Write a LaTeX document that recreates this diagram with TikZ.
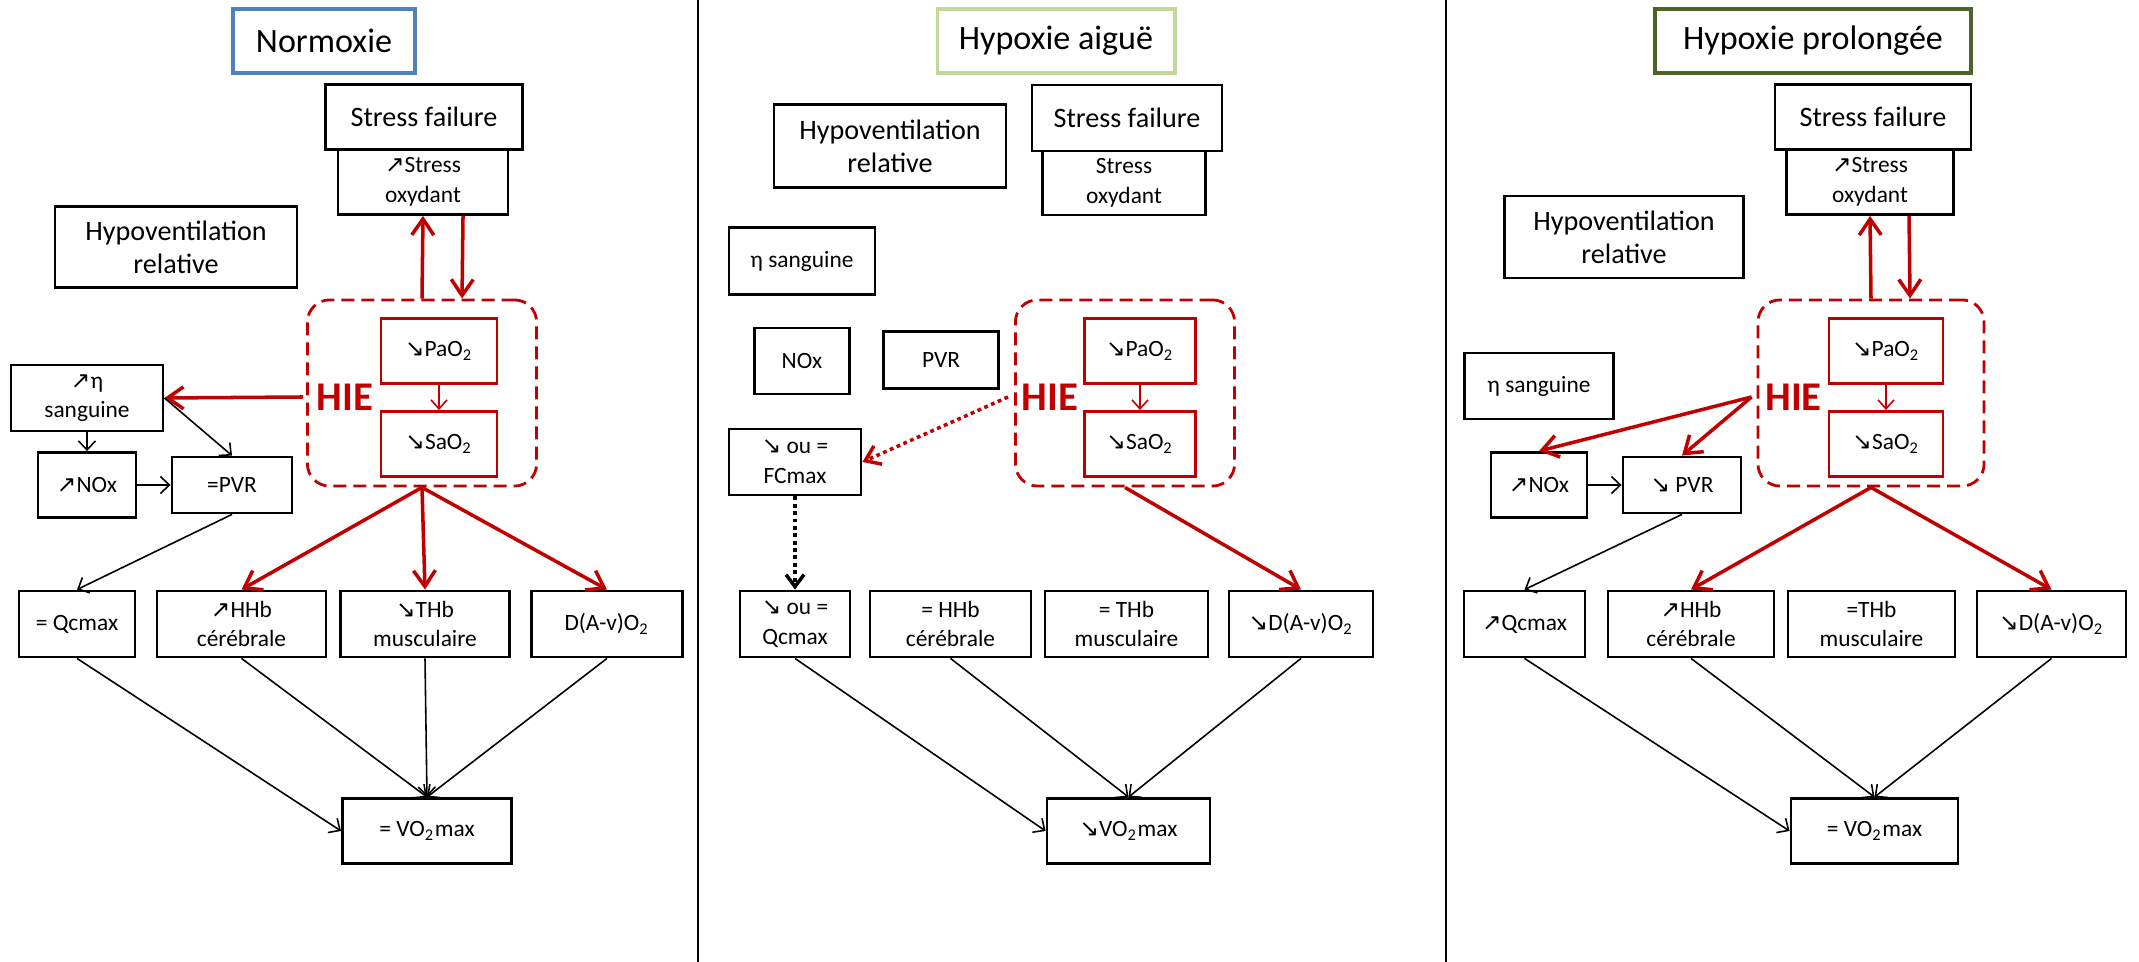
\documentclass[tikz,border=0pt]{standalone}
\usepackage{fontspec}
\setmainfont{Carlito}
\newfontfamily\symf{DejaVu Sans}
\usetikzlibrary{arrows.meta}
\newcommand{\nup}{{\symf\char"2197}}
\newcommand{\ndn}{{\symf\char"2198}}
\newcommand{\fbig}{\fontsize{8pt}{9.4pt}\selectfont}
\newcommand{\fsml}{\fontsize{6.65pt}{8.4pt}\selectfont}
\newcommand{\ftit}{\fontsize{9.7pt}{11pt}\selectfont}
\newcommand{\fhie}{\fontsize{11.6pt}{13pt}\selectfont\bfseries}
\definecolor{hred}{HTML}{C00000}
\definecolor{nblue}{HTML}{4F81BD}
\definecolor{lgreen}{HTML}{C3D69B}
\definecolor{dgreen}{HTML}{4F6228}
\begin{document}
\begin{tikzpicture}[x=0.01cm,y=-0.01cm,
  bx/.style={draw=black, line width=0.8pt, inner sep=0pt, align=center, fill=white},
  tbox/.style={line width=1.1pt, inner sep=0pt, font=\ftit, fill=white, minimum height=0.64cm},
  rbx/.style={draw=hred, line width=0.8pt, inner sep=0pt, align=center, fill=white, font=\fsml, minimum height=0.65cm},
  hbox/.style={draw=hred, line width=0.8pt, rounded corners=0.22cm, dash pattern=on 0.13cm off 0.07cm, inner sep=0pt},
  hietext/.style={text=hred, font=\fhie, inner sep=0.13cm},
  blk/.style={-{Straight Barb[length=0.09cm,width=0.17cm]}, line width=0.45pt},
  redthick/.style={draw=hred, -{Straight Barb[length=0.16cm,width=0.22cm]}, line width=1pt},
  redthin/.style={draw=hred, -{Straight Barb[length=0.09cm,width=0.16cm]}, line width=0.45pt},
  reddot/.style={draw=hred, -{Straight Barb[length=0.14cm,width=0.2cm]}, line width=1pt, dash pattern=on 1.1pt off 1pt},
  blkdot/.style={draw=black, -{Straight Barb[length=0.12cm,width=0.18cm]}, line width=1pt, dash pattern=on 1.1pt off 1pt},
  divl/.style={line width=0.75pt}]
\fill[white] (0,0) rectangle (2139,962);
\useasboundingbox (0,0) rectangle (2139,962);

% dividers
\coordinate (d1a) at (698,0); \coordinate (d1b) at (698,962);
\coordinate (d2a) at (1446,0); \coordinate (d2b) at (1446,962);
\draw[divl] (d1a) -- (d1b);
\draw[divl] (d2a) -- (d2b);

% ================= Panel 1 =================
\node[tbox, draw=nblue, minimum width=1.82cm] (t1) at (324,41) {Normoxie};
\node[bx, font=\fbig, minimum width=1.97cm, minimum height=0.65cm] (sf1) at (424,117) {Stress failure};
\node[bx, font=\fsml, minimum width=1.70cm, minimum height=0.65cm] (ox1) at (423,182) {\nup{}Stress\\oxydant};
\node[bx, font=\fbig, minimum width=2.42cm, minimum height=0.81cm] (hv1) at (176,247) {Hypoventilation\\relative};
\node[hbox, minimum width=2.29cm, minimum height=1.86cm] (hb1) at (422,393) {};
\node[rbx, minimum width=1.16cm] (pa1) at (439,351) {\ndn{}PaO\textsubscript{2}};
\node[rbx, minimum width=1.16cm] (sa1) at (439,444) {\ndn{}SaO\textsubscript{2}};
\node[hietext] (hie1) at (345,397) {HIE};
\node[bx, font=\fsml, minimum width=1.52cm, minimum height=0.66cm] (eta1) at (87,398) {\nup{}η\\sanguine};
\node[bx, font=\fsml, minimum width=0.98cm, minimum height=0.65cm] (nox1) at (87,485) {\nup{}NOx};
\node[bx, font=\fsml, minimum width=1.20cm, minimum height=0.56cm] (pvr1) at (232,485) {=PVR};
\node[bx, font=\fsml, minimum width=1.16cm, minimum height=0.66cm] (qc1) at (77,624) {= Qcmax};
\node[bx, font=\fsml, minimum width=1.69cm, minimum height=0.66cm] (hhb1) at (241.5,624) {\nup{}HHb\\cérébrale};
\node[bx, font=\fsml, minimum width=1.69cm, minimum height=0.66cm] (thb1) at (425,624) {\ndn{}THb\\musculaire};
\node[bx, font=\fsml, minimum width=1.51cm, minimum height=0.66cm] (dav1) at (607,624) {D(A-v)O\textsubscript{2}};
\node[bx, font=\fsml, minimum width=1.69cm, minimum height=0.65cm] (vo1) at (427,831) {= VO\textsubscript{2}max};

\draw[redthick] (hb1.north) -- (ox1.south);
\draw[redthick] ([xshift=0.4cm]ox1.south) -- ([xshift=0.4cm]hb1.north);
\draw[redthin] (pa1) -- (sa1);
\draw[redthick] (hie1.west) -- (eta1.east);
\draw[blk] (eta1.south) -- (nox1.north);
\draw[blk] (eta1.east) -- (pvr1.north);
\draw[blk] (nox1.east) -- (pvr1.west);
\draw[blk] (pvr1.south) -- (qc1.north);
\draw[redthick] (hb1.south) -- (hhb1.north);
\draw[redthick] (hb1.south) -- (thb1.north);
\draw[redthick] (hb1.south) -- (dav1.north);
\draw[blk] (qc1.south) -- (vo1.west);
\draw[blk] (hhb1.south) -- (vo1.north);
\draw[blk] (thb1.south) -- (vo1.north);
\draw[blk] (dav1.south) -- (vo1.north);

% ================= Panel 2 =================
\node[tbox, draw=lgreen, minimum width=2.37cm] (t2) at (1056,41) {Hypoxie aiguë};
\node[bx, font=\fbig, minimum width=2.32cm, minimum height=0.83cm] (hv2) at (890,146) {Hypoventilation\\relative};
\node[bx, font=\fbig, minimum width=1.90cm, minimum height=0.66cm] (sf2) at (1127,118) {Stress failure};
\node[bx, font=\fsml, minimum width=1.63cm, minimum height=0.64cm] (ox2) at (1124,183) {Stress\\oxydant};
\node[bx, font=\fsml, minimum width=1.46cm, minimum height=0.67cm] (eta2) at (802,261) {η sanguine};
\node[bx, font=\fsml, minimum width=0.95cm, minimum height=0.66cm] (nox2) at (802,361) {NOx};
\node[bx, font=\fsml, minimum width=1.15cm, minimum height=0.57cm] (pvr2) at (941,360) {PVR};
\node[hbox, minimum width=2.19cm, minimum height=1.86cm] (hb2) at (1125,393) {};
\node[rbx, minimum width=1.11cm] (pa2) at (1140,351) {\ndn{}PaO\textsubscript{2}};
\node[rbx, minimum width=1.11cm] (sa2) at (1140,444) {\ndn{}SaO\textsubscript{2}};
\node[hietext] (hie2) at (1050,397) {HIE};
\node[bx, font=\fsml, minimum width=1.32cm, minimum height=0.66cm] (fc2) at (795,462) {\ndn{} ou =\\FCmax};
\node[bx, font=\fsml, minimum width=1.10cm, minimum height=0.66cm] (qc2) at (795,624) {\ndn{} ou =\\Qcmax};
\node[bx, font=\fsml, minimum width=1.61cm, minimum height=0.66cm] (hhb2) at (950.5,624) {= HHb\\cérébrale};
\node[bx, font=\fsml, minimum width=1.63cm, minimum height=0.66cm] (thb2) at (1126.5,624) {= THb\\musculaire};
\node[bx, font=\fsml, minimum width=1.44cm, minimum height=0.66cm] (dav2) at (1301,624) {\ndn{}D(A-v)O\textsubscript{2}};
\node[bx, font=\fsml, minimum width=1.63cm, minimum height=0.65cm] (vo2) at (1128.5,831) {\ndn{}VO\textsubscript{2}max};

\draw[redthin] (pa2) -- (sa2);
\draw[reddot] (hie2.west) -- (fc2.east);
\draw[blkdot] (fc2.south) -- (qc2.north);
\draw[redthick] (hb2.south) -- (dav2.north);
\draw[blk] (qc2.south) -- (vo2.west);
\draw[blk] (hhb2.south) -- (vo2.north);
\draw[blk] (dav2.south) -- (vo2.north);

% ================= Panel 3 =================
\node[tbox, draw=dgreen, minimum width=3.15cm] (t3) at (1813,41) {Hypoxie prolongée};
\node[bx, font=\fbig, minimum width=1.96cm, minimum height=0.65cm] (sf3) at (1873,117) {Stress failure};
\node[bx, font=\fsml, minimum width=1.67cm, minimum height=0.65cm] (ox3) at (1870,182) {\nup{}Stress\\oxydant};
\node[bx, font=\fbig, minimum width=2.39cm, minimum height=0.82cm] (hv3) at (1624,237) {Hypoventilation\\relative};
\node[bx, font=\fsml, minimum width=1.49cm, minimum height=0.66cm] (eta3) at (1539,386) {η sanguine};
\node[hbox, minimum width=2.26cm, minimum height=1.86cm] (hb3) at (1871,393) {};
\node[rbx, minimum width=1.14cm] (pa3) at (1886,351) {\ndn{}PaO\textsubscript{2}};
\node[rbx, minimum width=1.14cm] (sa3) at (1886,444) {\ndn{}SaO\textsubscript{2}};
\node[hietext] (hie3) at (1793.5,397) {HIE};
\node[bx, font=\fsml, minimum width=0.96cm, minimum height=0.65cm] (nox3) at (1539,485) {\nup{}NOx};
\node[bx, font=\fsml, minimum width=1.18cm, minimum height=0.56cm] (pvr3) at (1682,485) {\ndn{} PVR};
\node[bx, font=\fsml, minimum width=1.21cm, minimum height=0.66cm] (qc3) at (1524.5,624) {\nup{}Qcmax};
\node[bx, font=\fsml, minimum width=1.66cm, minimum height=0.66cm] (hhb3) at (1691,624) {\nup{}HHb\\cérébrale};
\node[bx, font=\fsml, minimum width=1.67cm, minimum height=0.66cm] (thb3) at (1871.5,624) {=THb\\musculaire};
\node[bx, font=\fsml, minimum width=1.49cm, minimum height=0.66cm] (dav3) at (2051.5,624) {\ndn{}D(A-v)O\textsubscript{2}};
\node[bx, font=\fsml, minimum width=1.67cm, minimum height=0.65cm] (vo3) at (1874.5,831) {= VO\textsubscript{2}max};

\draw[redthick] (hb3.north) -- (ox3.south);
\draw[redthick] ([xshift=0.39cm]ox3.south) -- ([xshift=0.39cm]hb3.north);
\draw[redthin] (pa3) -- (sa3);
\draw[redthick] (hie3.west) -- (nox3.north);
\draw[redthick] (hie3.west) -- (pvr3.north);
\draw[blk] (nox3.east) -- (pvr3.west);
\draw[blk] (pvr3.south) -- (qc3.north);
\draw[redthick] (hb3.south) -- (hhb3.north);
\draw[redthick] (hb3.south) -- (dav3.north);
\draw[blk] (qc3.south) -- (vo3.west);
\draw[blk] (hhb3.south) -- (vo3.north);
\draw[blk] (dav3.south) -- (vo3.north);
\end{tikzpicture}
\end{document}
